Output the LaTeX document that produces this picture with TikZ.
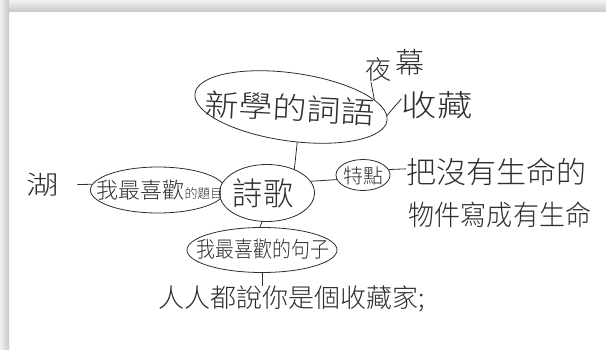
\documentclass[tikz,border=0pt]{standalone}
\usepackage{fontspec}
\newfontfamily\cjk{Noto Sans CJK TC Light}
\usetikzlibrary{shapes.geometric}
\definecolor{ink}{gray}{0.18}
\newcommand{\fsz}[1]{\fontsize{#1}{#1}\selectfont}
\tikzset{
  txt/.style={inner sep=0pt, font=\cjk, text=ink},
  blob/.style={draw=ink, line width=0.8pt, ellipse, inner sep=0pt},
  conn/.style={draw=ink, line width=0.8pt},
}
\begin{document}
\begin{tikzpicture}[x=1pt,y=-1pt]
\useasboundingbox (0,0) rectangle (606,350);
\fill[white] (0,0) rectangle (606,350);
% drop shadow of the sheet
\shade[top color=black!5, bottom color=black!22] (0,0) rectangle (606,12);
\shade[left color=black!5, right color=black!22] (0,0) rectangle (9,350);
% blobs
\node[blob, minimum width=194pt, minimum height=68pt, rotate=-8] (top) at (291,107) {};
\node[blob, minimum width=135pt, minimum height=46pt] (left) at (158,190) {};
\node[blob, fill=white, minimum width=95pt, minimum height=57pt] (ctr) at (267,193) {};
\node[blob, minimum width=54pt, minimum height=31pt] (tedian) at (363,175) {};
\node[blob, minimum width=150pt, minimum height=45pt] (bot) at (262,250) {};
% texts
\node[txt, rotate=-3] (xinci) at (290,108) {\scalebox{1.13}[1]{\fsz{30}新學的詞語}};
\node[txt] (ye) at (378,70) {\fsz{26}夜};
\node[txt] (mu) at (410,62) {\fsz{29}幕};
\node[txt] (sc) at (437,105) {\scalebox{1.18}[1]{\fsz{30}收藏}};
\node[txt] (hu) at (43,185) {\scalebox{1.25}[1]{\fsz{26}湖}};
\node[txt] (lt) at (160,190) {\fsz{22}我最喜歡\fsz{13}的題目};
\node[txt] (sg) at (263,193) {\scalebox{0.94}[1]{\fsz{32}詩歌}};
\node[txt] (td) at (363,176) {\fsz{20}特點};
\node[txt] (ba) at (496,172) {\fsz{30}把沒有生命的};
\node[txt] (wj) at (500,215) {\scalebox{0.93}[1]{\fsz{28}物件寫成有生命}};
\node[txt] (jz) at (263,249) {\scalebox{0.86}[1]{\fsz{22}我最喜歡的句子}};
\node[txt] (bt) at (292,299) {\fsz{26}人人都說你是個收藏家;};
% connectors
\draw[conn] (top.-72) -- (ctr.41);
\draw[conn] (top.13) -- (ye.-120);
\draw[conn] (top.3) -- (sc.170);
\draw[conn, shorten <=18pt] (hu.east) -- (left.175);
\draw[conn] (ctr.15) -- (tedian.190);
\draw[conn] (tedian.12) -- (ba.178);
\draw[conn] (ctr.-100) -- (bot.95);
\draw[conn] (bot.south) -- (bot.south |- bt.north);
\end{tikzpicture}
\end{document}
